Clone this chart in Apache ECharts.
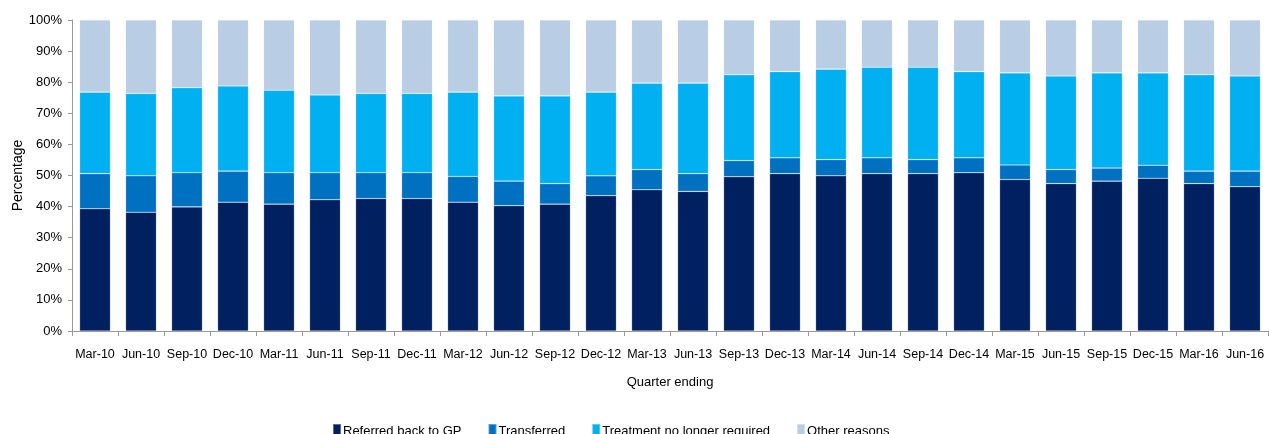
<!DOCTYPE html>
<html lang="en">
<head>
    <meta charset="UTF-8">
    <title>Discharge reasons</title>
    <script src="https://cdn.jsdelivr.net/npm/echarts@6/dist/echarts.min.js"></script>
    <style>
        body { margin: 0; background: #fff; }
        #main { width: 1269px; height: 434px; }
    </style>
</head>
<body>
    <div id="main"></div>
    <script>
        var quarters = ['Mar-10', 'Jun-10', 'Sep-10', 'Dec-10', 'Mar-11', 'Jun-11', 'Sep-11', 'Dec-11',
            'Mar-12', 'Jun-12', 'Sep-12', 'Dec-12', 'Mar-13', 'Jun-13', 'Sep-13', 'Dec-13',
            'Mar-14', 'Jun-14', 'Sep-14', 'Dec-14', 'Mar-15', 'Jun-15', 'Sep-15', 'Dec-15',
            'Mar-16', 'Jun-16'];
        // percentages
        var referredGP = [39.3, 38.2, 39.9, 41.4, 40.8, 42.2, 42.6, 42.6, 41.4, 40.3, 40.8, 43.5, 45.4,
            44.9, 49.6, 50.6, 49.9, 50.6, 50.6, 50.9, 48.7, 47.4, 48.2, 49.1, 47.4, 46.4];
        var transferred = [11.3, 11.7, 11.0, 10.0, 10.1, 8.7, 8.3, 8.3, 8.3, 7.9, 6.6, 6.4, 6.5,
            5.7, 5.2, 5.1, 5.2, 5.1, 4.5, 4.8, 4.7, 4.5, 4.2, 4.2, 4.0, 5.0];
        var notRequired = [26.2, 26.5, 27.3, 27.4, 26.5, 25.0, 25.5, 25.5, 27.1, 27.4, 28.2, 26.9, 27.8,
            29.1, 27.6, 27.7, 29.1, 29.1, 29.7, 27.7, 29.6, 30.1, 30.6, 29.7, 31.0, 30.6];
        var otherReasons = [23.2, 23.6, 21.8, 21.2, 22.6, 24.1, 23.6, 23.6, 23.2, 24.4, 24.4, 23.2, 20.3,
            20.3, 17.6, 16.6, 15.8, 15.2, 15.2, 16.6, 17.0, 18.0, 17.0, 17.0, 17.6, 18.0];

        var font = "'Liberation Sans', Arial, sans-serif";
        var myChart = echarts.init(document.getElementById('main'));

        function bar(name, data, color) {
            return {
                name: name,
                type: 'bar',
                stack: 'total',
                barWidth: '67%',
                data: data,
                itemStyle: {
                    color: color,
                    borderColor: 'rgba(255,255,255,0.35)',
                    borderWidth: 0.6
                }
            };
        }

        var option = {
            animation: false,
            textStyle: { fontFamily: font },
            grid: { left: 72, right: 1, top: 20, bottom: 103, outerBoundsMode: 'none' },
            legend: {
                top: 418,
                left: 327,
                itemWidth: 8,
                itemHeight: 14,
                itemGap: 26,
                icon: 'rect',
                textStyle: { fontFamily: font, fontSize: 13, color: '#000', padding: [0, 0, 0, -3] },
                data: ['Referred back to GP', 'Transferred', 'Treatment no longer required', 'Other reasons']
            },
            xAxis: {
                type: 'category',
                data: quarters,
                name: 'Quarter ending',
                nameLocation: 'middle',
                nameGap: 45,
                nameMoveOverlap: false,
                nameTextStyle: { fontFamily: font, fontSize: 13, color: '#000' },
                axisLine: { lineStyle: { color: '#999' } },
                axisTick: { show: true, length: 5, lineStyle: { color: '#999' } },
                axisLabel: { interval: 0, fontFamily: font, fontSize: 12.5, color: '#000', margin: 17 }
            },
            yAxis: {
                type: 'value',
                min: 0,
                max: 100,
                interval: 10,
                name: 'Percentage',
                nameLocation: 'middle',
                nameGap: 47,
                nameMoveOverlap: false,
                nameTextStyle: { fontFamily: font, fontSize: 14, color: '#000' },
                axisLine: { show: true, lineStyle: { color: '#999' } },
                axisTick: { show: true, length: 4, lineStyle: { color: '#999' } },
                splitLine: { show: false },
                axisLabel: { fontFamily: font, fontSize: 13, color: '#000', margin: 10, formatter: '{value}%' }
            },
            series: [
                bar('Referred back to GP', referredGP, '#002060'),
                bar('Transferred', transferred, '#0070c0'),
                bar('Treatment no longer required', notRequired, '#00b0f0'),
                bar('Other reasons', otherReasons, '#b9cde5')
            ]
        };
        myChart.setOption(option);
    </script>
</body>
</html>
